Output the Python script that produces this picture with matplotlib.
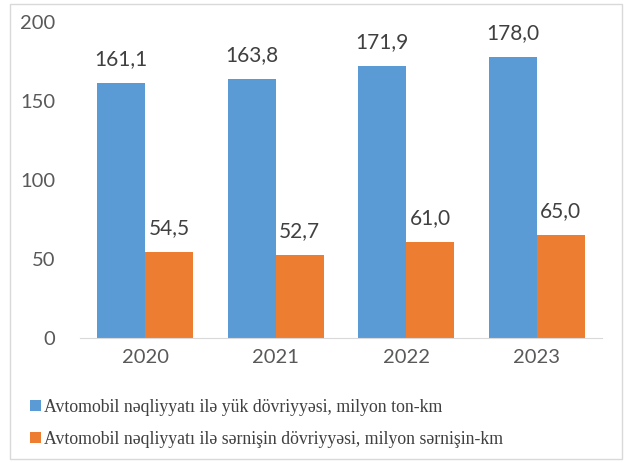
import matplotlib.pyplot as plt
from matplotlib.patches import Rectangle
import numpy as np

years = ['2020', '2021', '2022', '2023']
cargo = [161.1, 163.8, 171.9, 178.0]
passenger = [54.5, 52.7, 61.0, 65.0]
cargo_label = 'Avtomobil nəqliyyatı ilə yük dövriyyəsi, milyon ton-km'
pass_label = 'Avtomobil nəqliyyatı ilə sərnişin dövriyyəsi, milyon sərnişin-km'

blue = '#5b9bd5'
orange = '#ed7d31'
txt = '#595959'

fig = plt.figure(figsize=(6.25, 4.62), dpi=100)
fig.patches.append(Rectangle((10 / 625, 3 / 462), 612 / 625, 455 / 462, transform=fig.transFigure,
                             fill=False, edgecolor='#d9d9d9', lw=1))

ax = fig.add_axes([80 / 625, 1 - 338 / 462, 522 / 625, 316 / 462])
x = np.arange(len(years))
w = 0.367
b1 = ax.bar(x - w / 2, cargo, w, color=blue)
b2 = ax.bar(x + w / 2, passenger, w, color=orange)

for bars, vals in ((b1, cargo), (b2, passenger)):
    for r, v in zip(bars, vals):
        ax.annotate(f'{v:.1f}'.replace('.', ','), (r.get_x() + r.get_width() / 2, v),
                    xytext=(0, 10), textcoords='offset points', ha='center', va='bottom',
                    fontsize=15, color='#404040', family='Lato')

ax.set_xlim(-0.5, 3.5)
ax.set_ylim(0, 200)
ax.set_yticks([0, 50, 100, 150, 200])
ax.set_xticks(x)
ax.set_xticklabels(years)
for s in ['top', 'right', 'left']:
    ax.spines[s].set_visible(False)
ax.spines['bottom'].set_color('#d9d9d9')
ax.tick_params(axis='both', length=0, labelsize=14.5, labelcolor=txt)
ax.tick_params(axis='y', pad=18)
ax.tick_params(axis='x', pad=8)
for lab in ax.get_xticklabels() + ax.get_yticklabels():
    lab.set_family('Lato')

leg = fig.legend([b1, b2], [cargo_label, pass_label], loc='upper left',
                 bbox_to_anchor=(14 / 625, 1 - 383 / 462), frameon=False,
                 prop={'family': 'Liberation Serif', 'size': 12.8},
                 handlelength=0.6, handleheight=0.6, handletextpad=0.2, labelspacing=0.85)
for t in leg.get_texts():
    t.set_color('#404040')

fig.savefig('out.png', dpi=100)
